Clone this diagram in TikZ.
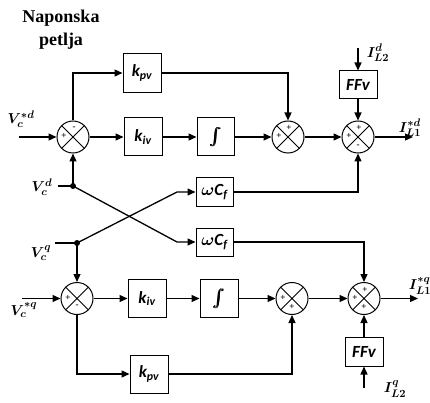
\documentclass[tikz,border=0pt]{standalone}
\usepackage{fontspec}
\usepackage{amsmath}
\usepackage{bm}
\setmainfont{Liberation Serif}
\newfontfamily\boxf{Carlito}
\usetikzlibrary{arrows.meta,calc}
\begin{document}
\begin{tikzpicture}[x=1pt,y=-1pt,line width=1.3pt,
  arr/.style={-{Triangle[length=8pt,width=7pt]}},
  blk/.style={draw,line width=1pt,minimum width=38pt,inner sep=0pt,font=\boxf\fontsize{17}{17}\selectfont\bfseries\itshape},
  sumc/.style={circle,draw,line width=1pt,minimum size=32pt,inner sep=0pt,
    path picture={\draw[line width=1pt] (path picture bounding box.north west)--(path picture bounding box.south east)
      (path picture bounding box.north east)--(path picture bounding box.south west);}},
  sg/.style={font=\fontsize{9}{9}\selectfont\bfseries,inner sep=0pt},
  lab/.style={inner sep=0pt,font=\fontsize{15}{15}\selectfont},
  ttl/.style={font=\fontsize{18}{18}\selectfont\bfseries,inner sep=0pt},
  dot/.style={circle,fill,inner sep=0pt,minimum size=6pt}]
\useasboundingbox (0,0) rectangle (430,403);
% title
\node[ttl] (t1) at (61,18) {Naponska};
\node[ttl] (t2) at (61,41) {petlja};
% top row
\node[sumc] (s1) at (73,137) {};
\node[blk,minimum height=39pt] (kpv1) at (142,73) {k\textsubscript{pv}};
\node[blk,minimum height=38pt] (kiv1) at (143,137) {k\textsubscript{iv}};
\node[blk,minimum height=38pt,minimum width=37pt] (int1) at (215.5,137) {\fontsize{16}{16}\selectfont$\bm{\int}$};
\node[sumc] (s2) at (288,137) {};
\node[sumc] (s3) at (358,137) {};
\node[blk,minimum height=28pt] (ff1) at (358,85) {FFv};
\node[blk,minimum height=28pt,minimum width=37pt] (wc1) at (214.5,192) {$\bm{\omega}$C\textsubscript{f}};
\node[blk,minimum height=28pt,minimum width=37pt] (wc2) at (214.5,242) {$\bm{\omega}$C\textsubscript{f}};
% bottom row
\node[sumc] (s4) at (77,298.5) {};
\node[blk,minimum height=38pt] (kiv2) at (147,298.5) {k\textsubscript{iv}};
\node[blk,minimum height=38pt] (int2) at (219,298.5) {\fontsize{16}{16}\selectfont$\bm{\int}$};
\node[blk,minimum height=38pt] (kpv2) at (149,374) {k\textsubscript{pv}};
\node[sumc] (s5) at (292,298.5) {};
\node[sumc] (s6) at (364,298.5) {};
\node[blk,minimum height=29pt] (ff2) at (364,351.5) {FFv};
% signs
\node[sg] at ($(s1)+(1,-9)$) {-};
\node[sg] at ($(s1)+(-9,-1)$) {+};
\node[sg] at ($(s2)+(1,-9)$) {+};
\node[sg] at ($(s2)+(-9,-1)$) {+};
\node[sg] at ($(s3)+(1,-9)$) {+};
\node[sg] at ($(s3)+(-9,-1)$) {+};
\node[sg] at ($(s3)+(0,9)$) {-};
\node[sg] at ($(s4)+(-9,-1)$) {+};
\node[sg] at ($(s4)+(0,8)$) {-};
\node[sg] at ($(s5)+(-9,-1)$) {+};
\node[sg] at ($(s5)+(0,8)$) {+};
\node[sg] at ($(s6)+(1,-9)$) {+};
\node[sg] at ($(s6)+(-9,-1)$) {+};
\node[sg] at ($(s6)+(0,8)$) {+};
% coordinates
\coordinate (vdin) at (19,137);
\coordinate (vdd) at (58,186);
\node[dot] (dd) at (73,186) {};
\coordinate (vqq) at (55,243);
\node[dot] (dq) at (77,243) {};
\coordinate (b1) at (177,242);
\coordinate (b2) at (177,192);
\coordinate (i2d) at (358,48);
\coordinate (o1) at (413,137);
\coordinate (vqin) at (22,298.5);
\coordinate (o2) at (418,298.5);
\coordinate (i2q) at (364,388);
% connectors top
\draw[arr] (vdin) -- (s1.west);
\draw[arr] (s1.north) |- (kpv1.west);
\draw[arr] (s1.east) -- (kiv1.west);
\draw[arr] (kiv1.east) -- (int1.west);
\draw[arr] (int1.east) -- (s2.west);
\draw[arr] (kpv1.east) -| (s2.north);
\draw[arr] (s2.east) -- (s3.west);
\draw[arr] (i2d) -- (ff1.north);
\draw[arr] (ff1.south) -- (s3.north);
\draw[arr] (s3.east) -- (o1);
\draw[arr] (wc1.east) -| (s3.south);
% cross
\draw (vdd) -- (dd.center);
\draw[arr] (dd.center) -- (s1.south);
\draw[arr] (dd.center) -- (b1) -- (wc2.west);
\draw (vqq) -- (dq.center);
\draw[arr] (dq.center) -- (s4.north);
\draw[arr] (dq.center) -- (b2) -- (wc1.west);
% bottom
\draw[arr] (wc2.east) -| (s6.north);
\draw[arr] (vqin) -- (s4.west);
\draw[arr] (s4.east) -- (kiv2.west);
\draw[arr] (kiv2.east) -- (int2.west);
\draw[arr] (int2.east) -- (s5.west);
\draw[arr] (s5.east) -- (s6.west);
\draw[arr] (s6.east) -- (o2);
\draw[arr] (s4.south) |- (kpv2.west);
\draw[arr] (kpv2.east) -| (s5.south);
\draw[arr] (i2q) -- (ff2.south);
\draw[arr] (ff2.north) -- (s6.south);
% labels
\node[lab] (l1) at (21,119) {$\bm{V_c^{*d}}$};
\node[lab] (l2) at (42,187) {$\bm{V_c^{d}}$};
\node[lab] (l3) at (41,253) {$\bm{V_c^{q}}$};
\node[lab] (l4) at (24,310) {$\bm{V_c^{*q}}$};
\node[lab] (l5) at (378,53) {$\bm{I_{L2}^{d}}$};
\node[lab] (l6) at (410,128) {$\bm{I_{L1}^{*d}}$};
\node[lab] (l7) at (420,286) {$\bm{I_{L1}^{*q}}$};
\node[lab] (l8) at (395,389) {$\bm{I_{L2}^{q}}$};
\end{tikzpicture}
\end{document}
